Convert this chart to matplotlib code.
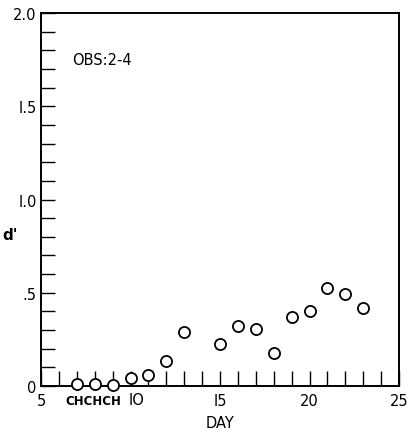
import numpy as np
import matplotlib
matplotlib.use("Agg")
import matplotlib.pyplot as plt
from matplotlib.ticker import MultipleLocator
from matplotlib.transforms import ScaledTranslation

# values
days = [7, 8, 9, 10, 11, 12, 13, 15, 16, 17, 18, 19, 20, 21, 22, 23]
dprime = [0.01, 0.01, 0.005, 0.043, 0.06, 0.136, 0.29, 0.224, 0.323,
          0.306, 0.177, 0.372, 0.404, 0.524, 0.492, 0.418]
xticks = [5, 10, 15, 20, 25]
xticklabels = ["5", "IO", "I5", "20", "25"]
yticks = [0, 0.5, 1.0, 1.5, 2.0]
yticklabels = ["0", ".5", "I.0", "I.5", "2.0"]

plt.rcParams['font.family'] = ['DejaVu Sans']

fig = plt.figure(figsize=(4.08, 4.35), dpi=100)
ax = fig.add_axes([0.1005, 0.1103, 0.8775, 0.8575])

ax.plot(days, dprime, 'o', ms=8, mfc='white', mec='black', mew=1.3,
        zorder=3, clip_on=False)

ax.set_xlim(5, 25)
ax.set_ylim(0, 2.0)

ax.set_xticks(xticks)
ax.set_xticklabels(xticklabels)
ax.xaxis.set_minor_locator(MultipleLocator(1))
ax.set_yticks(yticks)
ax.set_yticklabels(yticklabels)
ax.yaxis.set_minor_locator(MultipleLocator(0.1))

ax.tick_params(axis='both', which='both', direction='in', top=False,
               right=False, width=1.0, color='black')
ax.tick_params(axis='x', which='both', length=11, pad=5, labelsize=10.5)
ax.tick_params(axis='y', which='both', length=10, pad=3, labelsize=10.5)

# the "10" label sits a little right of its tick in the original
lbl10 = ax.get_xticklabels()[1]
lbl10.set_transform(lbl10.get_transform() + ScaledTranslation(4 / 72, 1 / 72, fig.dpi_scale_trans))

for s in ax.spines.values():
    s.set_linewidth(1.4)

ax.text(0.086, 0.875, "OBS:2-4", transform=ax.transAxes, fontsize=10.5,
        ha='left', va='center')
ax.text(-0.085, 0.405, "d'", transform=ax.transAxes, fontsize=11,
        ha='center', va='center', fontweight='bold')
ax.text(7.95, -0.075, "CHCHCH", fontsize=8.5, ha='center', va='center',
        fontweight='bold')
ax.set_xlabel("DAY", fontsize=10.5, labelpad=5)

fig.savefig("out.png", dpi=100)
